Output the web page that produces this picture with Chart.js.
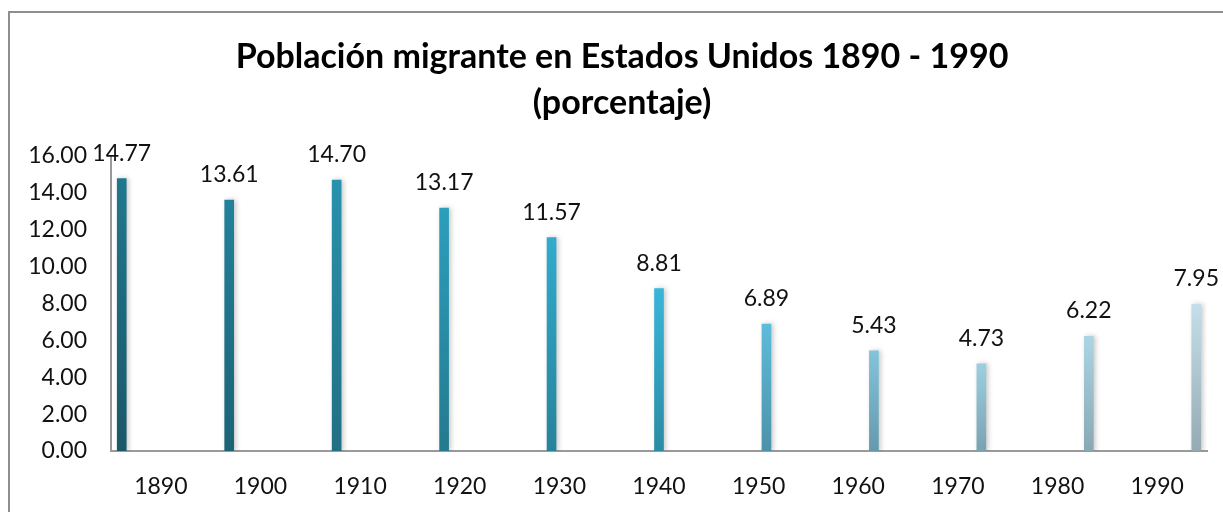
<!DOCTYPE html>
<html>
<head>
<meta charset="utf-8">
<script src="https://cdn.jsdelivr.net/npm/chart.js@4/dist/chart.umd.min.js"></script>
<style>
    body { margin: 0; background: #fff; overflow: hidden; }
    #frame {
        position: absolute; left: 8px; top: 11px; width: 2000px; height: 1000px;
        border-top: 2px solid #8e8e8e; border-left: 2px solid #8e8e8e;
    }
    #chart { position: absolute; left: 0; top: 0; }
</style>
</head>
<body>
<div id="frame"></div>
<canvas id="chart" width="1223" height="512"></canvas>
<script>
const titleLines = ['Población migrante en Estados Unidos 1890 - 1990', '(porcentaje)'];
const years = [1890, 1900, 1910, 1920, 1930, 1940, 1950, 1960, 1970, 1980, 1990];
const values = [14.77, 13.61, 14.70, 13.17, 11.57, 8.81, 6.89, 5.43, 4.73, 6.22, 7.95];
const yTicks = [0, 2, 4, 6, 8, 10, 12, 14, 16];

// bar colours, top and bottom of the gradient
const topColors = ['#21778d', '#22819a', '#2892ac', '#2c9fbc', '#31abcd', '#3ab6d9',
                   '#5dbcda', '#82c4dc', '#9ccfe1', '#acd5e4', '#c4dfea'];
const bottomColors = ['#1a5868', '#1c6375', '#216f82', '#247a8e', '#27839a', '#2a8ba4',
                      '#4c92a8', '#6599ab', '#7aa2b0', '#88a8b3', '#95aab2'];

const font = 'Lato, "Open Sans", sans-serif';

function barGradient(context) {
    const chart = context.chart;
    if (!chart.chartArea || context.parsed == null) return topColors[0];
    const yScale = chart.scales.y;
    const top = yScale.getPixelForValue(context.parsed.y);
    const bottom = yScale.getPixelForValue(0);
    const g = chart.ctx.createLinearGradient(0, top, 0, bottom);
    g.addColorStop(0, topColors[context.dataIndex]);
    g.addColorStop(1, bottomColors[context.dataIndex]);
    return g;
}

const barShadow = {
    id: 'barShadow',
    beforeDatasetsDraw(chart) {
        const ctx = chart.ctx;
        ctx.save();
        ctx.shadowColor = 'rgba(0,0,0,0.22)';
        ctx.shadowBlur = 5;
        ctx.shadowOffsetX = 2;
        ctx.shadowOffsetY = 0;
    },
    afterDatasetsDraw(chart) {
        chart.ctx.restore();
    }
};

const valueLabels = {
    id: 'valueLabels',
    afterDraw(chart) {
        const ctx = chart.ctx;
        ctx.save();
        ctx.font = '23px ' + font;
        ctx.fillStyle = '#111';
        ctx.textAlign = 'center';
        ctx.textBaseline = 'alphabetic';
        chart.getDatasetMeta(0).data.forEach((bar, i) => {
            ctx.fillText(values[i].toFixed(2), bar.x, bar.y - 18);
        });
        ctx.restore();
    }
};

new Chart(document.getElementById('chart'), {
    type: 'bar',
    data: {
        datasets: [{
            data: years.map((yr, i) => ({ x: yr, y: values[i] })),
            xAxisID: 'x',
            backgroundColor: barGradient,
            borderWidth: 0,
            barThickness: 9
        }]
    },
    plugins: [barShadow, valueLabels],
    options: {
        responsive: false,
        animation: false,
        events: [],
        layout: { padding: { left: 21, right: 0, top: 0, bottom: 0 } },
        plugins: {
            legend: { display: false },
            tooltip: { enabled: false },
            title: {
                display: true,
                text: titleLines,
                color: '#000',
                font: { family: font, size: 34, weight: 'bold', lineHeight: 1.353 },
                padding: { top: 34, bottom: 30 }
            }
        },
        scales: {
            x: {
                type: 'linear',
                display: false,
                offset: false,
                min: 1889,
                max: 1991
            },
            x2: {
                type: 'category',
                labels: years.map(String),
                position: 'bottom',
                offset: true,
                grid: { display: false, drawTicks: false },
                border: { display: true, color: '#9a9a9a', width: 2 },
                ticks: { color: '#111', font: { family: font, size: 23 }, padding: 22, maxRotation: 0 },
                afterFit(scale) { scale.height = 61; }
            },
            y: {
                min: 0,
                max: 16,
                grid: { display: false, drawTicks: false },
                border: { display: true, color: '#9a9a9a', width: 2 },
                afterBuildTicks(scale) { scale.ticks = yTicks.map(v => ({ value: v })); },
                ticks: {
                    color: '#111',
                    font: { family: font, size: 23 },
                    padding: 24,
                    callback: v => Number(v).toFixed(2)
                },
                afterFit(scale) { scale.width = 90; }
            },
            // empty right-hand margin, keeps the plot ending short of the edge
            yRight: {
                position: 'right',
                min: 0,
                max: 16,
                grid: { display: false, drawTicks: false },
                border: { display: false },
                ticks: { display: false },
                afterFit(scale) { scale.width = 16; }
            }
        }
    }
});
</script>
</body>
</html>
